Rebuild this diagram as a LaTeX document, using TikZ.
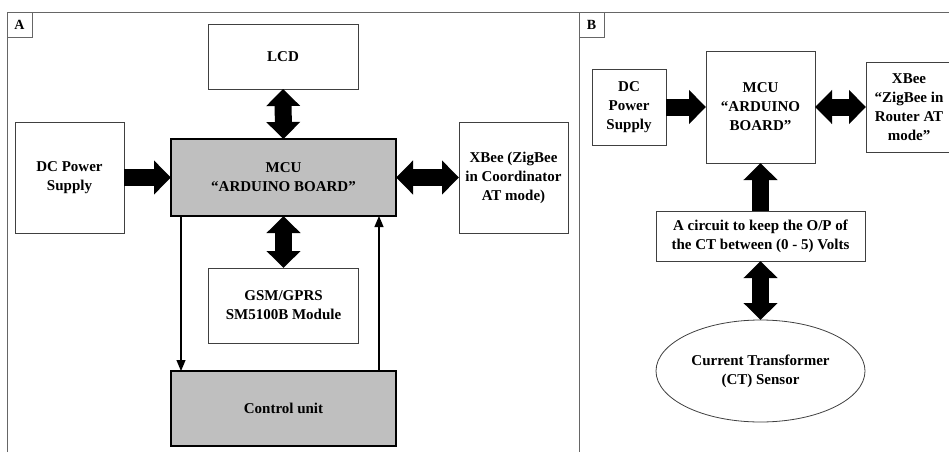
\documentclass[tikz,border=0pt]{standalone}
\usepackage{fontspec}
\setmainfont{Liberation Serif}
\usepackage{tikz}
\usetikzlibrary{arrows.meta}
\usetikzlibrary{positioning}
\usetikzlibrary{shapes.geometric}
\tikzstyle{block}=[draw=black!75,line width=0.8pt,fill=white,rectangle,align=center,outer sep=0pt,inner sep=2pt,font=\bfseries\fontsize{15}{19}\selectfont]
\tikzstyle{mainblock}=[block,draw=black,line width=2.4pt,fill=black!25]
\tikzstyle{tag}=[draw=black!60,line width=0.8pt,rectangle,minimum size=25pt,inner sep=0pt,outer sep=0pt,font=\bfseries\fontsize{14}{15}\selectfont]
\tikzstyle{fat}=[line width=17pt,-{Triangle[width=33pt,length=17pt]}]
\tikzstyle{fatboth}=[line width=17pt,{Triangle[width=33pt,length=17pt]}-{Triangle[width=33pt,length=17pt]}]
\tikzstyle{wire}=[line width=1.2pt,-{Triangle[width=9pt,length=11pt]}]

\begin{document}
\begin{tikzpicture}[x=1pt,y=-1pt]
	\useasboundingbox (0,0) rectangle (949,452);
	% panel frames
	\draw[black!60,line width=0.8pt] (7,452) -- (7,12) -- (579,12) -- (579,452);
	\draw[black!60,line width=0.8pt] (579,12) -- (949,12);
	\node [tag,anchor=north west] (ta) at (7,12) {A};
	\node [tag,anchor=north west] (tb) at (579,12) {B};

	% panel A
	\node [block,minimum width=150pt,minimum height=65pt] (lcd) at (283,56.5) {LCD};
	\node [mainblock,minimum width=225pt,minimum height=77pt] (mcu) at (283.5,177.5) {MCU\\``ARDUINO BOARD''};
	\node [block,minimum width=109pt,minimum height=111pt] (dc) at (69.5,177.5) {DC Power\\Supply};
	\node [block,minimum width=109pt,minimum height=111pt] (xbee) at (513.5,177.5) {XBee (ZigBee\\in Coordinator\\AT mode)};
	\node [block,minimum width=150pt,minimum height=75pt] (gsm) at (283.5,305.5) {GSM/GPRS\\SM5100B Module};
	\node [mainblock,minimum width=225pt,minimum height=75pt] (ctrl) at (283.5,408.5) {Control unit};

	\draw [fatboth] (lcd) -- (mcu);
	\draw [fat] (dc) -- (mcu);
	\draw [fatboth] (mcu) -- (xbee);
	\draw [fatboth] (mcu) -- (gsm);
	\draw [wire] ([xshift=10pt]mcu.south west) -- ([xshift=10pt]ctrl.north west);
	\draw [wire] ([xshift=-17pt]ctrl.north east) -- ([xshift=-17pt]mcu.south east);

	% panel B
	\node [block,minimum width=74pt,minimum height=76pt] (dcb) at (629,107) {DC\\Power\\Supply};
	\node [block,minimum width=109pt,minimum height=112pt] (mcub) at (760.5,107) {MCU\\``ARDUINO\\BOARD''};
	\node [block,minimum width=86pt,minimum height=90pt] (xbeeb) at (909,107) {XBee\\``ZigBee in\\Router AT\\mode''};
	\node [block,minimum width=209pt,minimum height=50pt] (circ) at (760.5,236) {A circuit to keep the O/P of\\the CT between (0 - 5) Volts};
	\node [block,ellipse,minimum width=209pt,minimum height=102pt] (ct) at (760.5,371) {Current Transformer\\(CT) Sensor};

	\draw [fat] (dcb) -- (mcub);
	\draw [fatboth] (mcub) -- (xbeeb);
	\draw [fat] (circ) -- (mcub);
	\draw [fatboth] (circ) -- (ct);
\end{tikzpicture}
\end{document}
